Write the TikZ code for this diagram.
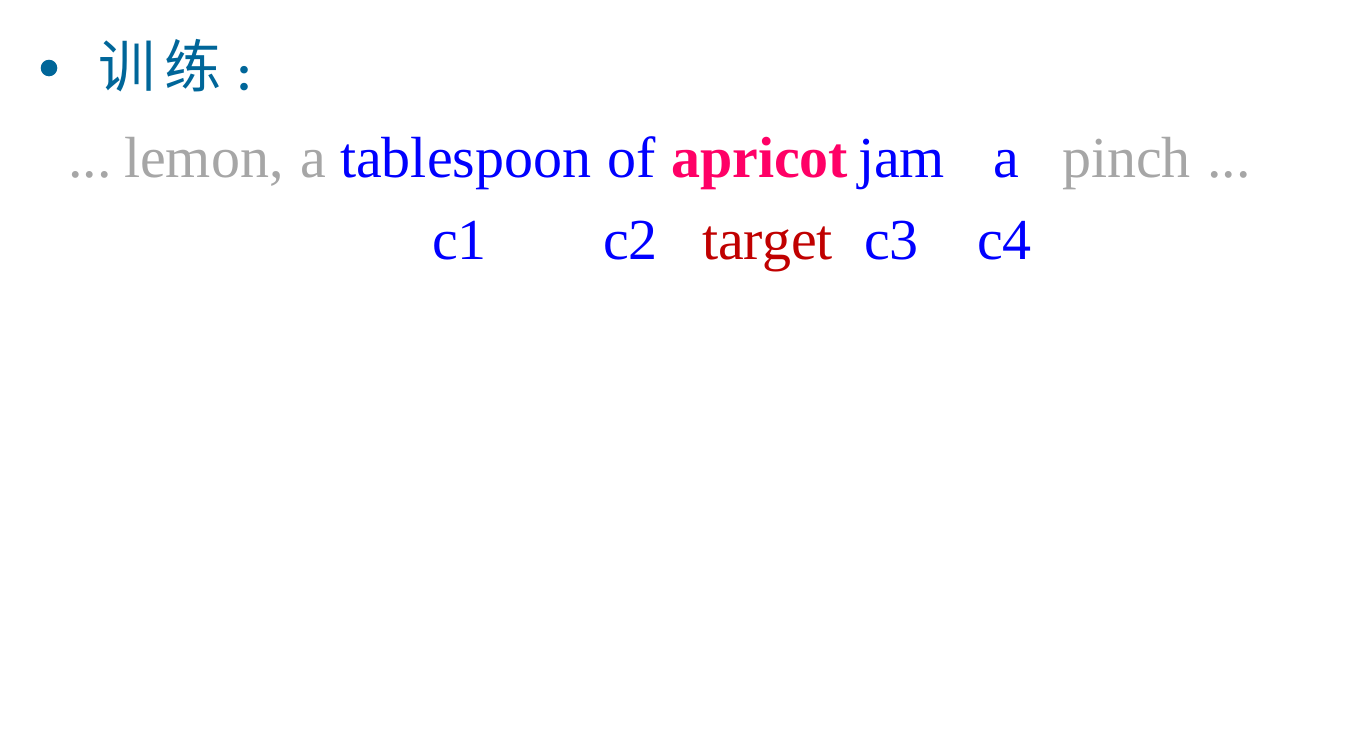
\documentclass[tikz,border=0pt]{standalone}
\usepackage{fontspec}
\setmainfont{Liberation Serif}
\newfontfamily\cjk{Noto Sans CJK SC}
\definecolor{headc}{RGB}{0,102,153}
\definecolor{greyc}{RGB}{166,166,166}
\definecolor{bluec}{RGB}{0,0,255}
\definecolor{pinkc}{RGB}{255,0,102}
\definecolor{targc}{RGB}{192,0,0}
\begin{document}
\begin{tikzpicture}[x=1pt,y=-1pt,
  w/.style={inner sep=0pt,outer sep=0pt,anchor=base west,font=\fontsize{58}{60}\selectfont},
  grey/.style={w,text=greyc},
  blue/.style={w,text=bluec},
  zh/.style={inner sep=0pt,outer sep=0pt,anchor=base west,text=headc,font=\cjk\fontsize{57}{60}\selectfont}]
\useasboundingbox (0,0) rectangle (1372,747);
\fill[headc] (49,68) circle (8.3);
\node[zh] (h1) at (98,87) {训};
\node[zh] (h2) at (164,87) {练};
\node[zh,font=\cjk\bfseries\fontsize{36}{40}\selectfont] (h3) at (235,90) {：};
% line 2
\node[grey] (d1) at (68,177) {...};
\node[grey] (lemon) at (124,177) {lemon,};
\node[grey] (a1) at (300,177) {a};
\node[blue] (tbsp) at (340,177) {tablespoon};
\node[blue] (of) at (607,177) {of};
\node[w,text=pinkc,font=\bfseries\fontsize{58}{60}\selectfont] (apricot) at (671,177) {apricot};
\node[blue] (jam) at (858,177) {jam};
\node[blue] (a2) at (993,177) {a};
\node[grey] (pinch) at (1062,177) {pinch};
\node[grey] (d2) at (1207,177) {...};
% line 3
\node[blue] (c1) at (432,259) {c1};
\node[blue] (c2) at (603,259) {c2};
\node[w,text=targc] (target) at (702,259) {target};
\node[blue] (c3) at (864,259) {c3};
\node[blue] (c4) at (977,259) {c4};
\end{tikzpicture}
\end{document}
